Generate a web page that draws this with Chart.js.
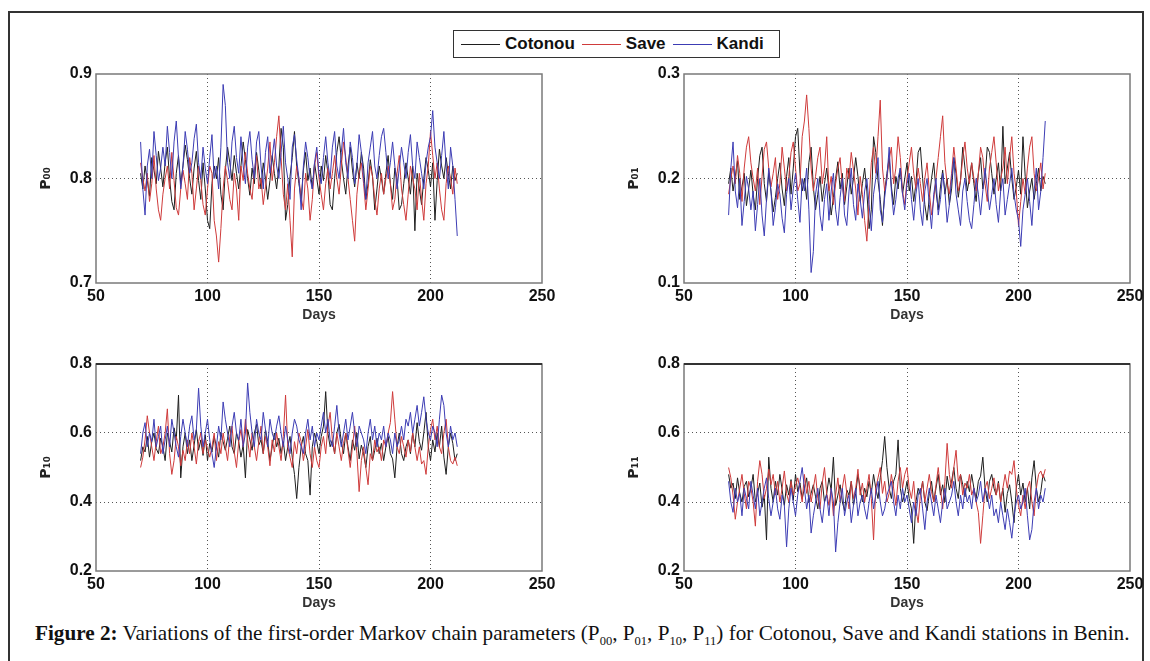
<!DOCTYPE html>
<html>
<head>
<meta charset="utf-8">
<script src="https://cdn.jsdelivr.net/npm/chart.js@4.4.1/dist/chart.umd.min.js"></script>
<style>
  body { margin: 0; background: #fff; width: 1150px; height: 661px; overflow: hidden; position: relative; font-family: 'Liberation Sans', Arial, sans-serif; }
  #frame { position: absolute; left: 8px; top: 11px; width: 1132px; height: 700px; border: 2px solid #333; }
  canvas { position: absolute; }
  #legend { position: absolute; left: 453px; top: 30px; width: 318px; height: 26px; border: 1.5px solid #333; display: flex; align-items: center; padding-left: 7px; box-sizing: content-box; }
  #legend .item { display: flex; align-items: center; margin-right: 7px; }
  #legend .swatch { width: 39px; height: 0; border-top: 1px solid; margin-right: 5px; }
  #legend .name { font-weight: bold; font-size: 17px; color: #111; }
  #caption { position: absolute; left: 35px; top: 619px; font-family: 'Liberation Serif', 'Times New Roman', serif; font-size: 21.2px; line-height: 28px; color: #111; white-space: nowrap; }
  #caption sub { font-size: 12.5px; }
</style>
</head>
<body>
<div id="frame"></div>
<div id="legend"></div>
<canvas id="p00" width="540" height="270" style="left:20px;top:60px"></canvas>
<canvas id="p01" width="540" height="270" style="left:608px;top:60px"></canvas>
<canvas id="p10" width="540" height="268" style="left:20px;top:350px"></canvas>
<canvas id="p11" width="540" height="268" style="left:608px;top:350px"></canvas>
<div id="caption"><b>Figure 2:</b> Variations of the first-order Markov chain parameters (P<sub>00</sub>, P<sub>01</sub>, P<sub>10</sub>, P<sub>11</sub>) for Cotonou, Save and Kandi stations in Benin.</div>
<script>
// stations and line colours
const stations = ['Cotonou', 'Save', 'Kandi'];
const lineColors = ['#1e1e1e', '#cf3b3b', '#3c3cb4'];

// days 70..212
const firstDay = 70;
const dayCount = 143;
const days = Array.from({ length: dayCount }, (_, i) => firstDay + i);

const xTicks = [50, 100, 150, 200, 250];

// values in thousandths (one per day)
const p00Cotonou = [
  805,790,812,798,783,820,808,795,826,810, 792,815,830,800,778,770,805,822,795,812,
  832,818,800,785,810,826,798,780,815,790, 760,752,795,812,800,820,785,770,808,830,
  815,798,822,805,790,812,835,818,800,784, 810,795,825,808,790,815,800,780,798,822,
  805,790,812,848,830,760,775,802,820,845, 812,795,780,808,825,798,810,790,815,800,
  785,812,798,822,805,775,770,800,825,840, 818,800,785,812,830,808,792,815,800,825,
  810,780,795,818,802,770,790,812,800,785, 805,822,795,780,810,800,770,775,795,815,
  800,785,812,750,805,790,775,800,820,808, 792,815,760,798,828,812,800,820,805,790,
  812,798,805
];
const p00Save = [
  815,800,788,805,778,795,822,790,770,760, 785,800,812,790,825,798,772,765,790,808,
  795,780,820,805,770,790,812,798,775,765, 790,812,805,760,745,720,752,790,812,798,
  780,770,805,790,760,812,798,825,805,790, 780,808,822,790,800,775,792,810,835,798,
  815,840,860,820,785,770,795,760,725,790, 812,800,782,770,805,790,760,780,812,825,
  800,785,770,795,810,790,805,822,800,785, 812,835,820,800,780,760,740,785,805,815,
  795,770,790,812,802,780,765,790,805,785, 800,812,795,770,780,805,822,790,775,760,
  785,812,800,790,770,805,780,760,795,812, 845,822,800,815,790,770,760,795,812,800,
  785,810,795
];
const p00Kandi = [
  835,790,765,812,828,800,845,822,798,810, 830,812,850,825,800,835,855,820,790,812,
  845,828,805,815,838,852,815,800,830,810, 795,820,842,800,812,790,830,890,870,815,
  800,835,850,820,805,840,812,795,830,845, 818,800,835,845,812,790,825,840,805,820,
  838,812,800,825,850,815,800,780,830,842, 818,800,770,812,835,820,800,790,815,830,
  805,795,820,840,815,800,830,845,812,800, 825,848,815,800,835,820,795,812,842,825,
  800,780,815,830,845,812,800,822,840,848, 825,800,815,835,812,790,810,830,815,800,
  825,842,812,800,835,820,805,790,815,830, 840,865,830,815,800,822,845,812,790,830,
  812,780,745
];

const p01Cotonou = [
  195,210,188,202,217,180,192,205,174,190, 208,185,170,200,222,230,195,178,205,188,
  168,182,200,215,190,174,202,220,185,210, 240,248,205,188,200,180,215,230,192,170,
  185,202,178,195,210,188,165,182,200,216, 190,205,175,192,210,185,200,220,202,178,
  195,210,188,152,170,240,225,198,180,155, 188,205,220,192,175,202,190,210,185,200,
  215,188,202,178,195,225,230,200,175,160, 182,200,215,188,170,192,208,185,200,175,
  190,220,205,182,198,230,210,188,200,215, 195,178,205,220,190,200,230,225,205,185,
  200,215,188,250,195,210,225,200,180,192, 208,185,240,202,172,188,200,180,195,210,
  188,202,195
];
const p01Save = [
  185,200,212,195,222,205,178,210,230,240, 215,200,188,210,175,202,228,235,210,192,
  205,220,180,195,230,210,188,202,225,235, 210,188,195,240,255,280,248,210,188,202,
  220,230,195,210,240,188,202,175,195,210, 220,192,178,210,200,225,208,190,165,202,
  185,160,140,180,215,230,205,240,275,210, 188,200,218,230,195,210,240,220,188,175,
  200,215,230,205,190,210,195,178,200,215, 188,165,180,200,220,240,260,215,195,185,
  205,230,210,188,198,220,235,210,195,215, 200,188,205,230,220,195,178,210,225,240,
  215,188,200,210,230,195,220,240,205,188, 155,178,200,185,210,230,240,205,188,200,
  215,190,205
];
const p01Kandi = [
  165,210,235,188,172,200,155,178,202,190, 170,188,150,175,200,165,145,180,210,188,
  155,172,195,185,162,148,185,200,170,190, 205,180,158,200,188,210,170,110,130,185,
  200,165,150,180,195,160,188,205,170,155, 182,200,165,155,188,210,175,160,195,180,
  162,188,200,175,150,185,200,220,170,158, 182,200,230,188,165,180,200,210,185,170,
  195,205,180,160,185,200,170,155,188,200, 175,152,185,200,165,180,205,188,158,175,
  200,220,185,170,155,188,200,178,160,152, 175,200,185,165,188,210,190,170,185,200,
  175,158,188,200,165,180,195,210,185,170, 160,135,170,185,200,178,155,188,210,170,
  188,220,255
];

const p10Cotonou = [
  520,560,545,590,530,575,600,555,540,585, 560,520,600,575,545,615,580,710,470,560,
  600,540,580,520,565,610,550,580,535,595, 520,570,545,590,560,530,600,575,550,585,
  620,560,540,600,575,530,565,470,610,580, 550,600,625,565,580,540,610,575,520,560,
  600,560,585,540,575,520,560,590,530,480, 410,500,560,590,540,520,420,560,600,575,
  540,590,620,720,600,560,580,540,600,625, 575,540,600,560,520,580,550,600,525,565,
  540,500,560,590,520,550,585,540,570,520, 560,590,540,525,470,560,600,540,520,560,
  580,540,600,560,630,575,550,600,660,560, 520,580,545,600,560,620,530,480,560,600,
  570,520,540
];
const p10Save = [
  500,530,580,650,600,560,520,575,620,540, 560,600,670,540,480,520,590,560,505,550,
  520,580,540,600,560,510,575,600,540,580, 555,530,560,600,520,575,540,600,560,520,
  590,620,545,500,575,610,560,640,580,530, 600,560,520,575,620,540,590,560,505,580,
  545,600,560,520,590,710,560,530,500,575, 540,600,575,520,560,610,540,500,560,520,
  500,560,590,540,620,660,580,540,600,560, 520,570,600,550,500,560,620,540,430,520,
  560,500,450,540,520,580,545,560,520,580, 560,600,630,720,640,560,540,590,560,530,
  580,545,600,560,520,560,510,520,480,560, 610,640,580,620,560,540,600,640,560,520,
  510,530,505
];
const p10Kandi = [
  540,600,630,560,600,575,640,560,590,620, 540,580,620,560,640,600,560,530,590,640,
  600,560,620,650,580,610,730,620,560,600, 640,580,540,500,560,620,580,690,640,600,
  560,620,660,600,580,640,560,600,745,660, 600,560,640,600,580,660,610,560,640,600,
  580,620,650,600,560,620,580,540,600,640, 620,580,560,540,600,640,580,620,560,600,
  580,620,660,600,640,580,560,620,680,600, 560,600,640,580,620,660,600,560,620,600,
  580,540,600,640,580,620,560,600,580,620, 560,600,580,540,600,560,580,620,580,640,
  620,660,600,640,680,620,660,705,640,600, 580,620,600,560,640,710,680,600,560,620,
  580,600,560
];

const p11Cotonou = [
  480,440,455,410,470,425,400,445,460,415, 440,480,400,425,455,385,420,290,530,440,
  400,460,420,480,435,390,450,420,465,405, 480,430,455,410,440,470,400,425,450,415,
  380,440,460,400,425,470,435,530,390,420, 450,400,375,435,420,460,390,425,480,440,
  400,440,415,460,425,480,440,410,470,520, 590,500,440,410,460,480,580,440,400,425,
  460,410,380,280,400,440,420,460,400,375, 425,460,400,440,480,420,450,400,475,435,
  460,500,440,410,480,450,415,460,430,480, 440,410,460,475,530,440,400,460,480,440,
  420,460,400,440,370,425,450,400,340,440, 480,420,455,400,440,380,470,520,440,400,
  430,480,460
];
const p11Save = [
  500,470,420,350,400,440,480,425,380,460, 440,400,330,460,520,480,410,440,495,450,
  480,420,460,400,440,490,425,400,460,420, 445,470,440,400,480,425,460,400,440,480,
  410,380,455,500,425,390,440,360,420,470, 400,440,480,425,380,460,410,440,495,420,
  455,400,440,480,410,290,440,470,500,425, 460,400,425,480,440,390,460,500,440,480,
  500,440,410,460,380,340,420,460,400,440, 480,430,400,450,500,440,380,460,570,480,
  440,500,550,460,480,420,455,440,480,420, 440,400,370,280,360,440,460,410,440,470,
  420,455,400,440,480,440,490,480,520,440, 390,360,420,380,440,460,400,360,440,480,
  490,470,495
];
const p11Kandi = [
  460,400,370,440,400,425,360,440,410,380, 460,420,380,440,360,400,440,470,410,360,
  400,440,380,350,420,390,270,380,440,400, 360,420,460,500,440,380,420,310,360,400,
  440,380,340,400,420,360,440,400,255,340, 400,440,360,400,420,340,390,440,360,400,
  420,380,350,400,440,380,420,460,400,360, 380,420,440,460,400,360,420,380,440,400,
  420,380,340,400,360,420,440,380,320,400, 440,400,360,420,380,340,400,440,380,400,
  420,460,400,360,420,380,440,400,420,380, 440,400,420,460,400,440,420,380,420,360,
  380,340,400,360,320,380,340,295,360,400, 420,380,400,440,360,290,320,400,440,380,
  420,400,440
];

// legend
const legendEl = document.getElementById('legend');
stations.forEach((name, i) => {
  const item = document.createElement('div');
  item.className = 'item';
  item.innerHTML = `<span class="swatch" style="border-color:${lineColors[i]}"></span><span class="name">${name}</span>`;
  legendEl.appendChild(item);
});

// draws the axes box around the plot area
const boxPlugin = {
  id: 'box',
  afterDatasetsDraw(chart, args, opts) {
    const { ctx, chartArea: a } = chart;
    ctx.save();
    ctx.strokeStyle = '#7a7a7a';
    ctx.lineWidth = 1.5;
    ctx.strokeRect(a.left, a.top, a.right - a.left, a.bottom - a.top);
    if (opts.darkTop) {
      ctx.strokeStyle = '#333';
      ctx.lineWidth = 2;
      ctx.beginPath();
      ctx.moveTo(a.left, a.top);
      ctx.lineTo(a.right, a.top);
      ctx.stroke();
    }
    ctx.restore();
  }
};

const tickFont = { family: "'Liberation Sans', Arial, sans-serif", weight: 'bold', size: 16 };

function innerGrid(c) {
  if (c.index === 0 || c.index === c.scale.ticks.length - 1) return 'rgba(0,0,0,0)';
  return '#555';
}

function makePanel(id, yTitle, yMin, yMax, yStep, series, darkTop) {
  return new Chart(document.getElementById(id), {
    type: 'line',
    data: {
      datasets: series.map((vals, i) => ({
        label: stations[i],
        data: days.map((d, k) => ({ x: d, y: vals[k] / 1000 })),
        borderColor: lineColors[i],
        borderWidth: 1,
        pointRadius: 0,
        tension: 0,
        order: 2 - i
      }))
    },
    options: {
      responsive: false,
      animation: false,
      layout: { padding: { top: 14, right: 18, bottom: 0, left: 0 } },
      plugins: { legend: { display: false }, tooltip: { enabled: false }, box: { darkTop } },
      scales: {
        x: {
          type: 'linear',
          min: xTicks[0],
          max: xTicks[xTicks.length - 1],
          afterBuildTicks: (scale) => { scale.ticks = xTicks.map(v => ({ value: v })); },
          afterFit: (scale) => { scale.height = 47; },
          grid: { color: innerGrid, lineWidth: 1, drawTicks: false },
          border: { display: false, dash: [1, 3] },
          ticks: { font: tickFont, color: '#111', padding: 4, maxRotation: 0 },
          title: { display: true, text: 'Days', font: { family: "'Liberation Sans', Arial, sans-serif", weight: 'bold', size: 14 }, color: '#333', padding: { top: 0, bottom: 6 } }
        },
        y: {
          min: yMin,
          max: yMax,
          afterFit: (scale) => { scale.width = 76; },
          grid: { color: innerGrid, lineWidth: 1, drawTicks: false },
          border: { display: false, dash: [1, 3] },
          ticks: { stepSize: yStep, font: tickFont, color: '#111', padding: 4, callback: (v) => v.toFixed(1) },
          title: { display: true, text: yTitle, font: { family: "'DejaVu Sans', sans-serif", weight: 'bold', size: 14 }, color: '#222', padding: { top: 18, bottom: 0 } }
        }
      }
    },
    plugins: [boxPlugin]
  });
}

makePanel('p00', 'P₀₀', 0.7, 0.9, 0.1, [p00Cotonou, p00Save, p00Kandi], false);
makePanel('p01', 'P₀₁', 0.1, 0.3, 0.1, [p01Cotonou, p01Save, p01Kandi], false);
makePanel('p10', 'P₁₀', 0.2, 0.8, 0.2, [p10Cotonou, p10Save, p10Kandi], true);
makePanel('p11', 'P₁₁', 0.2, 0.8, 0.2, [p11Cotonou, p11Save, p11Kandi], true);
</script>
</body>
</html>
